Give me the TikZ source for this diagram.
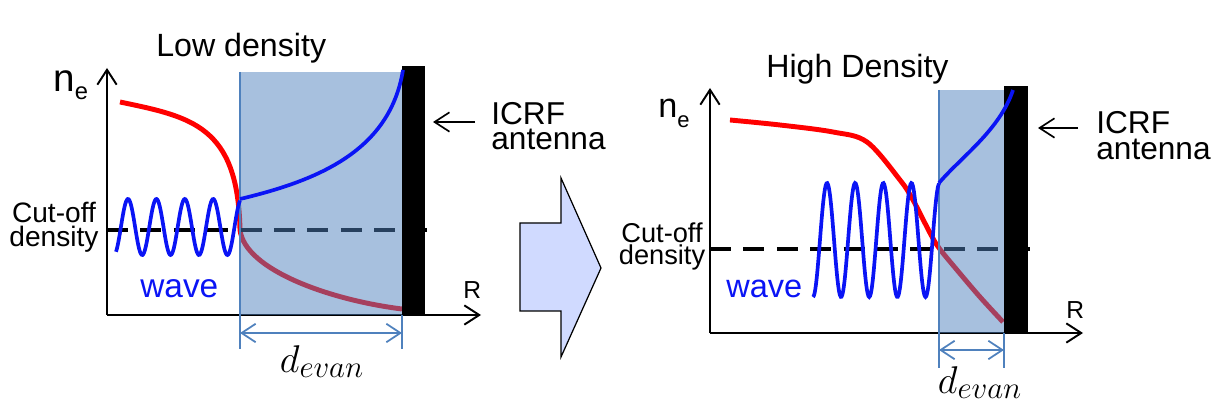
\RequirePackage{fix-cm}
\documentclass[tikz,border=0pt]{standalone}
\usepackage{fontspec}
\setmainfont{Liberation Sans}
\usepackage{tikz}
\usepackage{xcolor}
\usetikzlibrary{arrows.meta}
\renewcommand{\defaultscriptratio}{.8}
\definecolor{CurveRed}{RGB}{255,0,0}
\definecolor{WaveBlue}{RGB}{10,20,245}
\definecolor{EvanBlue}{RGB}{79,129,189}
\definecolor{ArrowFill}{RGB}{208,218,255}

\begin{document}
\begin{tikzpicture}[x=0.02cm, y=-0.02cm,
    tip/.style={-{Straight Barb[length=8.5pt,width=11pt]}},
    axisline/.style={tip, line width=1.1pt},
    redcurve/.style={CurveRed, line width=2.8pt},
    wavecurve/.style={WaveBlue, line width=2.1pt},
    cutoff/.style={line width=2pt, dash pattern=on 12pt off 7pt},
    evanzone/.style={EvanBlue, fill opacity=0.5},
    edgeline/.style={EvanBlue, line width=1pt},
    dimline/.style={EvanBlue, line width=1pt, {Straight Barb[length=8pt,width=10.5pt]}-{Straight Barb[length=8pt,width=10.5pt]}},
    txt/.style={inner sep=0pt}]
  \useasboundingbox (0,0) rectangle (1216,408);
  % low density
  \draw[axisline] (107,315) -- (107,68);
  \draw[axisline] (107,315) -- (481,315);
  \draw[redcurve] (120,102) .. controls (192,117) and (238,126) .. (240,230) .. controls (245,270) and (330,300) .. (402,309);
  \draw[cutoff] (107,230) -- (427,230);
  \fill[evanzone] (240,72) rectangle (402,315);
  \draw[edgeline] (240,72) -- (240,349);
  \draw[edgeline] (402,315) -- (402,349);
  \fill (402,66) rectangle (425,315);
  \draw[wavecurve] plot[domain=116:240, samples=160, smooth] (\x,{227-28*cos(12.676*(\x-128))});
  \draw[wavecurve] (240,199) .. controls (320,180) and (390,150) .. (403,70);
  \coordinate (dimL1) at (240,333);
  \coordinate (dimL2) at (402,333);
  \draw[dimline] (dimL1) -- (dimL2);
  \coordinate (icrfTailL) at (475,122);
  \coordinate (icrfTipL) at (433,122);
  \draw[tip, line width=0.95pt] (icrfTailL) -- (icrfTipL);
  \node[txt, anchor=base west, font=\fontsize{18.3}{22}\selectfont] (lowT) at (156,57) {Low density};
  \node[txt, anchor=base west, font=\fontsize{22}{26}\selectfont] (neL) at (53,92) {n\raisebox{-4.5pt}{\fontsize{13.5}{15}\selectfont e}};
  \node[txt, anchor=north, align=center, font=\fontsize{16}{13.8}\selectfont] (cutL) at (54,202) {Cut-off\\density};
  \node[txt, anchor=base west, WaveBlue, font=\fontsize{19}{22}\selectfont] (waveL) at (140,297) {wave};
  \node[txt, anchor=base west, font=\fontsize{14}{16}\selectfont] (rL) at (463,298) {R};
  \node[txt, anchor=north west, align=left, font=\fontsize{18}{14}\selectfont] (icrfL) at (491,102) {ICRF\\antenna};
  \node[txt, anchor=base, font=\fontsize{22}{26}\selectfont] (devanL) at (322,372) {$d_{evan}$};
  % arrow
  \draw[fill=ArrowFill, line width=0.7pt] (520,223) -- (561,223) -- (561,178) -- (601,268) -- (561,357) -- (561,311) -- (520,311) -- cycle;
  % high density
  \draw[axisline] (710,333) -- (710,88);
  \draw[axisline] (710,333) -- (1083,333);
  \draw[redcurve] plot[smooth, tension=0.55] coordinates {(730,120) (780,125) (833,132) (867,142) (900,180) (913,200) (930,233) (939,248) (957,270) (980,297) (1003,322)};
  \draw[cutoff] (710,249) -- (1030,249);
  \fill[evanzone] (939,90) rectangle (1004,333);
  \draw[edgeline] (939,90) -- (939,368);
  \draw[edgeline] (1004,333) -- (1004,368);
  \fill (1004,86) rectangle (1028,333);
  \draw[wavecurve] plot[domain=813:939, samples=160, smooth] (\x,{240-57*cos(12.789*(\x-827))});
  \draw[wavecurve] (939,183) .. controls (960,158) and (1000,130) .. (1013,90);
  \coordinate (dimR1) at (939,350);
  \coordinate (dimR2) at (1004,350);
  \draw[dimline] (dimR1) -- (dimR2);
  \coordinate (icrfTailR) at (1078,128);
  \coordinate (icrfTipR) at (1038,128);
  \draw[tip, line width=0.95pt] (icrfTailR) -- (icrfTipR);
  \node[txt, anchor=base west, font=\fontsize{18.3}{22}\selectfont] (highT) at (766,78) {High Density};
  \node[txt, anchor=base west, font=\fontsize{19.5}{24}\selectfont] (neR) at (658,118) {n\raisebox{-5.5pt}{\fontsize{12.5}{14}\selectfont e}};
  \node[txt, anchor=north, align=center, font=\fontsize{15.5}{12.8}\selectfont] (cutR) at (662,222) {Cut-off\\density};
  \node[txt, anchor=base west, WaveBlue, font=\fontsize{18.5}{22}\selectfont] (waveR) at (726,297) {wave};
  \node[txt, anchor=base west, font=\fontsize{14}{16}\selectfont] (rR) at (1066,318) {R};
  \node[txt, anchor=north west, align=left, font=\fontsize{18}{14.8}\selectfont] (icrfR) at (1096,111) {ICRF\\antenna};
  \node[txt, anchor=base, font=\fontsize{22}{26}\selectfont] (devanR) at (980,393) {$d_{evan}$};
\end{tikzpicture}
\end{document}
